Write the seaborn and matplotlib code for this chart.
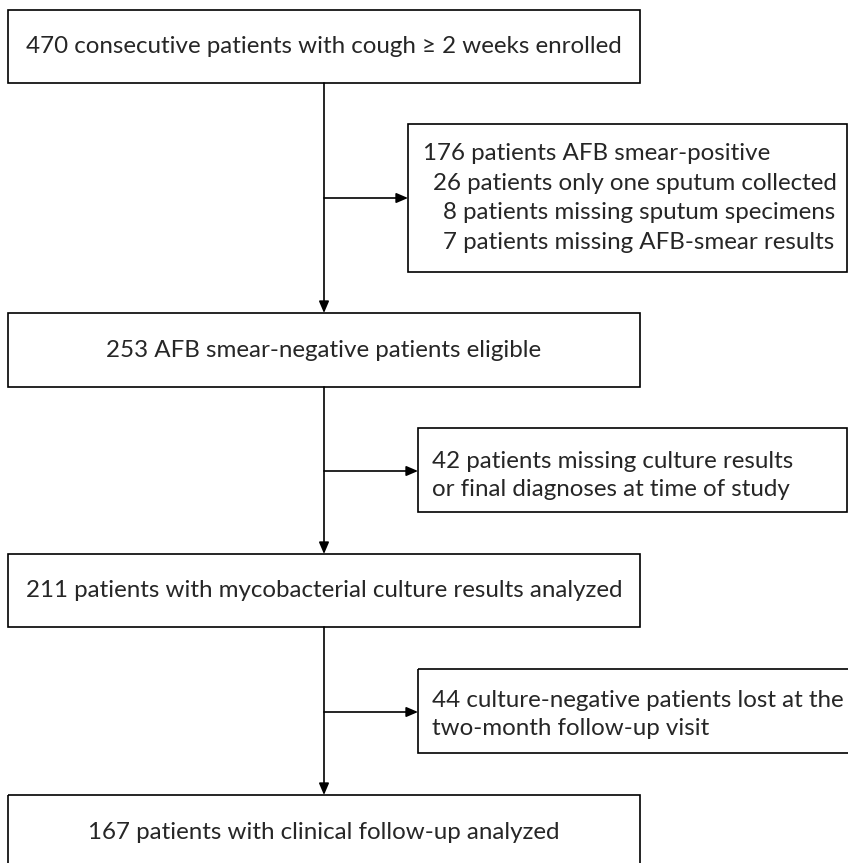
import matplotlib.pyplot as plt
from matplotlib.patches import Rectangle
import seaborn as sns

# flow counts and texts
main_counts = [470, 253, 211, 167]
main_labels = [
    "470 consecutive patients with cough \u2265 2 weeks enrolled",
    "253 AFB smear-negative patients eligible",
    "211 patients with mycobacterial culture results analyzed",
    "167 patients with clinical follow-up analyzed",
]
excl_lines = [
    ["176 patients AFB smear-positive",
     "26 patients only one sputum collected",
     "8 patients missing sputum specimens",
     "7 patients missing AFB-smear results"],
    ["42 patients missing culture results",
     "or final diagnoses at time of study"],
    ["44 culture-negative patients lost at the",
     "two-month follow-up visit"],
]

sns.set_style("white")
plt.rcParams['font.family'] = ['Lato', 'DejaVu Sans']

fig = plt.figure(figsize=(8.48, 8.63), dpi=100)
ax = fig.add_axes([0, 0, 1, 1])
ax.set_xlim(0, 848)
ax.set_ylim(863, 0)
ax.axis('off')

lw = 1.2
fs = 17.4
arrow = dict(arrowstyle="-|>,head_length=0.7,head_width=0.3",
             color='black', lw=lw, shrinkA=0, shrinkB=0)

# main boxes (pixel layout): top, bottom
main_box = [(10, 83), (313, 387), (554, 627), (795, 875)]
main_x0, main_x1 = 8, 640
cx = 324
for (top, bot), lab in zip(main_box, main_labels):
    ax.add_patch(Rectangle((main_x0, top), main_x1 - main_x0, bot - top,
                           fill=False, edgecolor='black', linewidth=lw))
    ty = (top + bot) / 2 if bot < 863 else 832
    ax.text((main_x0 + main_x1) / 2, ty, lab, ha='center',
            va='center', fontsize=fs)

# exclusion boxes: left, right, top, bottom, arrow y, text y, text x
excl_box = [
    (408, 847, 124, 272, 198, [153, 183, 212, 242], [423, 433, 443, 443]),
    (418, 847, 428, 512, 471, [461, 489], [432, 432]),
    (418, 870, 669, 753, 712, [700, 728], [432, 432]),
]
for (x0, x1, top, bot, ay, tys, txs), lines in zip(excl_box, excl_lines):
    ax.add_patch(Rectangle((x0, top), x1 - x0, bot - top,
                           fill=False, edgecolor='black', linewidth=lw))
    for tx, ty, ln in zip(txs, tys, lines):
        ax.text(tx, ty, ln, ha='left', va='center', fontsize=fs)
    ax.annotate("", xy=(x0, ay), xytext=(cx, ay), arrowprops=arrow)

# vertical arrows between main boxes
for i in range(len(main_box) - 1):
    ax.annotate("", xy=(cx, main_box[i + 1][0]), xytext=(cx, main_box[i][1]),
                arrowprops=arrow)

fig.savefig("out.png", dpi=100)
